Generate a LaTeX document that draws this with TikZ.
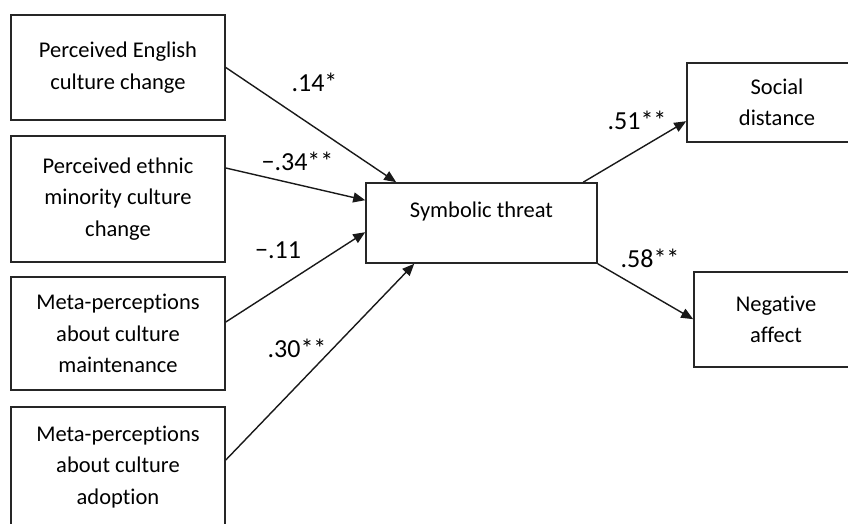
\documentclass[tikz,border=0pt]{standalone}
\usepackage{fontspec}
\setmainfont{Carlito}[Ligatures=NoCommon]
\usetikzlibrary{arrows.meta,calc}
\begin{document}
\begin{tikzpicture}[x=1pt,y=-1pt,
  box/.style={draw=black!85,line width=1.6pt,rectangle,inner sep=0pt,align=center,
    font=\fontsize{22.5}{31.5}\selectfont},
  conn/.style={draw=black!90,line width=1.4pt,-{Triangle[length=12pt,width=10pt]}},
  coef/.style={font=\fontsize{26}{30}\selectfont,anchor=base,inner sep=0pt}]
\useasboundingbox (0,0) rectangle (848,524);
\clip (0,0) rectangle (848,524);
\node[box,minimum width=214pt,minimum height=105pt] (b1) at (118,67.5) {Perceived English\\culture change};
\node[box,minimum width=214pt,minimum height=126pt] (b2) at (118,199) {Perceived ethnic\\minority culture\\change};
\node[box,minimum width=214pt,minimum height=113pt] (b3) at (118,333.5) {Meta-perceptions\\about culture\\maintenance};
\node[box,minimum width=214pt,minimum height=120pt] (b4) at (118,467) {Meta-perceptions\\about culture\\adoption};
\node[box,minimum width=231pt,minimum height=80pt,text height=10pt,text depth=22pt] (st) at (481.5,223) {Symbolic threat};
\node[box,minimum width=180pt,minimum height=79pt] (sd) at (777,102.5) {Social\\distance};
\node[box,minimum width=164pt,minimum height=95pt] (na) at (776,319.5) {Negative\\affect};

\draw[conn] (b1.east) -- ($(st.north west)+(31,0)$);
\draw[conn] ($(b2.east)+(0,-31)$) -- ($(st.north west)+(0,18)$);
\draw[conn] ($(b3.east)+(0,-11.5)$) -- ($(st.north west)+(0,50)$);
\draw[conn] ($(b4.east)+(0,-7)$) -- ($(st.south west)+(49,0)$);
\draw[conn] ($(st.north west)+(218,0)$) -- ($(sd.north west)+(0,59)$);
\draw[conn] (st.south east) -- ($(na.north west)+(0,48)$);

\node[coef] (c1) at (314.5,92) {.14*};
\node[coef] (c2) at (297.5,170) {−.34**};
\node[coef] (c3) at (278,258) {−.11};
\node[coef] (c4) at (297,357) {.30**};
\node[coef] (c5) at (637,130) {.51**};
\node[coef] (c6) at (650,267) {.58**};
\end{tikzpicture}
\end{document}
